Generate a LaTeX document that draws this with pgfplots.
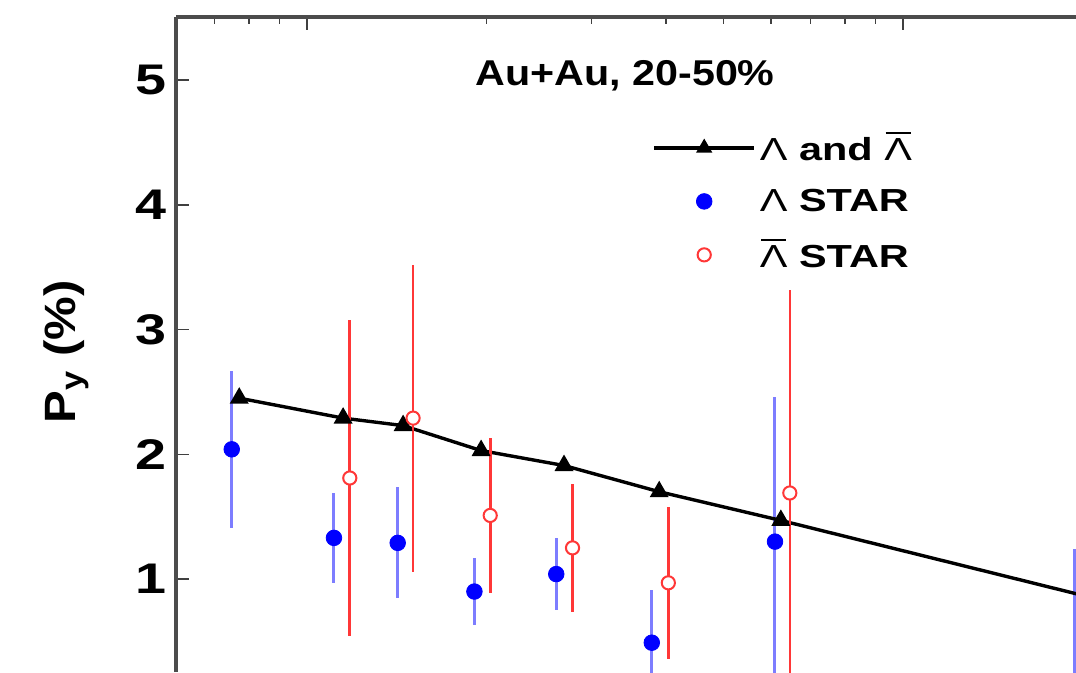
\documentclass[border=0pt]{standalone}
\usepackage{graphicx}
\usepackage{pgfplots}
\pgfplotsset{compat=1.18}
\usepackage{fontspec}
\setmainfont{Liberation Sans}

\newcommand{\Lam}{{\mdseries Λ}}
\newcommand{\Lbar}{{\mdseries\setbox0\hbox{Λ}\rlap{\hbox to\wd0{\hss\rule[1.2\ht0]{0.9\wd0}{1.2bp}\hss}}\box0}}
\newcommand{\wide}[1]{\scalebox{1.3}[1]{#1}}

\definecolor{starblue}{RGB}{0,0,255}
\definecolor{barblue}{RGB}{125,125,255}
\definecolor{starred}{RGB}{255,55,55}

\pgfplotsset{
  leg/.style={legend image code/.code={%
    \draw[##1, mark repeat=2, mark phase=2] plot coordinates {(0bp,0bp) (25bp,0bp) (50bp,0bp)};}},
  legtri/.style={legend image code/.code={%
    \draw[##1, mark size=3bp, mark repeat=2, mark phase=2] plot coordinates {(0bp,0bp) (25bp,0bp) (50bp,0bp)};}},
}

\begin{document}
\begin{tikzpicture}
\begin{axis}[
  scale only axis,
  width=450bp, height=327.5bp,
  xmode=log,
  xmin=6.03, xmax=195.2,
  ymin=0.255, ymax=5.505,
  axis x line*=top,
  axis y line*=left,
  axis line style={black!70, line width=2bp, -},
  xticklabel=\empty,
  ytick={1,2,3,4,5},
  tick align=inside,
  major tick length=6.5bp,
  minor tick length=3.5bp,
  every tick/.style={black!75, line width=0.8bp},
  /pgf/number format/assume math mode=true,
  yticklabel style={font=\bfseries\fontsize{21.5}{21.5}\selectfont, xscale=1.3},
  ylabel={\scalebox{1.12}[1]{P\textsubscript{y} (\%)}},
  ylabel style={font=\bfseries\fontsize{22}{22}\selectfont,
                at={(axis description cs:-0.122,0.4885)}, anchor=center},
  legend style={at={(axis description cs:0.529,0.831)}, anchor=north west,
                draw=none, fill=none, inner sep=0pt,
                font=\bfseries\fontsize{16}{18}\selectfont, row sep=8.5bp},
  legend cell align=left,
]
% Lambda STAR (drawn first, legend entry added below)
\addplot[color=starblue, only marks, mark=*, mark size=3.9bp,
  mark options={draw=none, fill=starblue}, forget plot,
  error bars/.cd, y dir=both, y explicit, error mark=none,
  error bar style={barblue, line width=1.5bp}]
  table[x=x, y=y, y error=e] {
  x      y     e
  7.48   2.04  0.63
  11.1   1.33  0.36
  14.2   1.29  0.445
  19.1   0.90  0.27
  26.2   1.04  0.29
  37.9   0.49  0.42
  61.0   1.30  1.16
  194.2  0.10  1.14
  };
% model: Lambda and anti-Lambda
\addplot[black, line width=1.7bp, mark=triangle*, mark size=3.8bp,
  mark options={solid, fill=black}, legtri]
  coordinates {
  (7.7,2.45)(11.5,2.29)(14.5,2.23)(19.6,2.03)
  (27,1.91)(39,1.70)(62.4,1.47)(200,0.87)
  };
\addlegendentry{\wide{\Lam{} and \Lbar}}
\addlegendimage{color=starblue, only marks, mark=*, mark size=3.9bp,
  mark options={draw=none, fill=starblue}, leg}
\addlegendentry{\wide{\Lam{} STAR}}
% anti-Lambda STAR
\addplot[color=starred, only marks, mark=*, mark size=3.3bp,
  mark options={draw=starred, fill=white, line width=1bp}, leg,
  error bars/.cd, y dir=both, y explicit, error mark=none,
  error bar style={starred, line width=1.3bp}]
  table[x=x, y=y, y error=e] {
  x      y     e
  11.8   1.81  1.27
  15.07  2.29  1.23
  20.3   1.51  0.62
  27.9   1.25  0.51
  40.4   0.97  0.61
  64.6   1.69  1.63
  };
\addlegendentry{\wide{\Lbar{} STAR}}

\node[font=\bfseries\fontsize{18}{18}\selectfont, xscale=1.15]
  at (axis description cs:0.499,0.911) {Au+Au, 20-50\%};

\coordinate (bl) at (rel axis cs:0,0);
\coordinate (tr) at (rel axis cs:1,1);
\end{axis}
\pgfresetboundingbox
\path[use as bounding box] ([xshift=-88bp]bl) rectangle ([yshift=8.5bp]tr);
\end{tikzpicture}
\end{document}
